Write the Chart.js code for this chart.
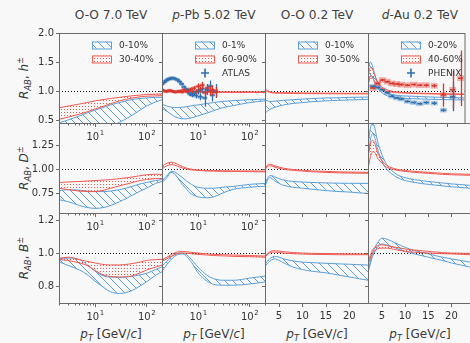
<!DOCTYPE html>
<html><head><meta charset="utf-8">
<script src="https://cdn.jsdelivr.net/npm/chart.js@4.4.1/dist/chart.umd.min.js"></script>
<style>
html,body{margin:0;padding:0;background:#f8f8f8;}
#fig{position:relative;width:470px;height:343px;overflow:hidden;background:#f8f8f8;font-family:"DejaVu Sans",sans-serif;color:#3a3a3a;font-weight:400;}
#fig canvas{position:absolute;left:0;top:0;}
.t{position:absolute;white-space:nowrap;line-height:1;font-weight:400;}
.title{font-size:12.2px;transform:translate(-50%,-50%);color:#404040;}
.xl{font-size:12px;transform:translate(-50%,-50%);}
.yl{font-size:12px;transform:translate(-50%,-50%) rotate(-90deg);}
sub,sup{font-size:70%;line-height:0;}
</style></head><body>
<div id="fig">
<div class="t title" style="left:111px;top:15px">O-O 7.0 TeV</div>
<div class="t title" style="left:214px;top:15px"><i>p</i>-Pb 5.02 TeV</div>
<div class="t title" style="left:317px;top:15px">O-O 0.2 TeV</div>
<div class="t title" style="left:420px;top:15px"><i>d</i>-Au 0.2 TeV</div>
<div class="t yl" style="left:24px;top:78px"><i>R</i><sub><i>AB</i></sub>, <i>h</i><sup>±</sup></div>
<div class="t yl" style="left:24px;top:168px"><i>R</i><sub><i>AB</i></sub>, <i>D</i><sup>±</sup></div>
<div class="t yl" style="left:24px;top:258px"><i>R</i><sub><i>AB</i></sub>, <i>B</i><sup>±</sup></div>
<div class="t xl" style="left:111px;top:334px"><i>p</i><sub><i>T</i></sub> [GeV/<i>c</i>]</div>
<div class="t xl" style="left:214px;top:334px"><i>p</i><sub><i>T</i></sub> [GeV/<i>c</i>]</div>
<div class="t xl" style="left:317px;top:334px"><i>p</i><sub><i>T</i></sub> [GeV/<i>c</i>]</div>
<div class="t xl" style="left:420px;top:334px"><i>p</i><sub><i>T</i></sub> [GeV/<i>c</i>]</div>
</div>
<script>
// ---------------- DATA ----------------
// pT grids
const ptOO7 = [2, 3, 5, 7, 10, 15, 20, 30, 50, 75, 100, 150, 200];
const ptPPb = [2, 2.5, 3, 3.5, 4, 5, 6, 7, 8, 10, 15, 20, 30, 50, 100, 200];
const ptRHIC = [2, 2.5, 3, 3.5, 4, 5, 6, 8, 10, 12, 15, 18, 20, 24];

// O-O 7.0 TeV
const oo7_h_blueHi = [0.45, 0.50, 0.57, 0.62, 0.67, 0.72, 0.76, 0.80, 0.85, 0.87, 0.88, 0.89, 0.89];
const oo7_h_blueLo = [0.42, 0.38, 0.34, 0.32, 0.32, 0.35, 0.39, 0.46, 0.57, 0.67, 0.74, 0.81, 0.85];
const oo7_h_redHi  = [0.71, 0.74, 0.775, 0.80, 0.83, 0.855, 0.87, 0.89, 0.915, 0.93, 0.94, 0.945, 0.95];
const oo7_h_redLo  = [0.51, 0.55, 0.60, 0.64, 0.69, 0.74, 0.78, 0.83, 0.875, 0.90, 0.91, 0.915, 0.92];
const oo7_D_blueHi = [0.775, 0.785, 0.78, 0.77, 0.765, 0.765, 0.77, 0.785, 0.815, 0.845, 0.86, 0.88, 0.89];
const oo7_D_blueLo = [0.68, 0.66, 0.62, 0.60, 0.59, 0.60, 0.62, 0.66, 0.72, 0.77, 0.80, 0.85, 0.87];
const oo7_D_redHi  = [0.86, 0.865, 0.87, 0.875, 0.88, 0.885, 0.89, 0.90, 0.915, 0.93, 0.94, 0.945, 0.945];
const oo7_D_redLo  = [0.80, 0.785, 0.77, 0.765, 0.765, 0.78, 0.80, 0.825, 0.855, 0.88, 0.89, 0.90, 0.90];
const oo7_B_blueHi = [0.965, 0.97, 0.96, 0.93, 0.89, 0.86, 0.855, 0.853, 0.858, 0.868, 0.877, 0.90, 0.917];
const oo7_B_blueLo = [0.947, 0.925, 0.897, 0.87, 0.83, 0.79, 0.765, 0.755, 0.77, 0.80, 0.825, 0.865, 0.887];
const oo7_B_redHi  = [0.968, 0.975, 0.96, 0.95, 0.94, 0.93, 0.928, 0.928, 0.935, 0.945, 0.955, 0.96, 0.962];
const oo7_B_redLo  = [0.96, 0.955, 0.94, 0.925, 0.895, 0.865, 0.858, 0.855, 0.86, 0.88, 0.897, 0.915, 0.927];

// p-Pb 5.02 TeV
const ppb_h_blueHi = [0.77, 0.74, 0.72, 0.715, 0.715, 0.72, 0.73, 0.74, 0.75, 0.76, 0.785, 0.80, 0.82, 0.835, 0.85, 0.86];
const ppb_h_blueLo = [0.70, 0.65, 0.60, 0.56, 0.54, 0.52, 0.52, 0.53, 0.545, 0.57, 0.62, 0.66, 0.71, 0.75, 0.80, 0.83];
const ppb_h_redHi  = [1.01, 1.01, 1.005, 1.0, 1.0, 0.995, 0.995, 0.99, 0.99, 0.99, 0.99, 0.985, 0.985, 0.985, 0.985, 0.985];
const ppb_h_redLo  = [0.995, 0.995, 0.99, 0.985, 0.985, 0.98, 0.98, 0.98, 0.978, 0.978, 0.977, 0.975, 0.975, 0.975, 0.975, 0.975];
const ppb_D_blueHi = [0.88, 0.93, 0.975, 0.97, 0.95, 0.91, 0.875, 0.85, 0.83, 0.81, 0.80, 0.80, 0.81, 0.82, 0.84, 0.85];
const ppb_D_blueLo = [0.86, 0.91, 0.965, 0.95, 0.91, 0.84, 0.79, 0.75, 0.73, 0.71, 0.70, 0.71, 0.75, 0.79, 0.81, 0.82];
const ppb_D_redHi  = [1.03, 1.06, 1.07, 1.065, 1.05, 1.025, 1.01, 1.0, 0.995, 0.99, 0.985, 0.985, 0.982, 0.98, 0.98, 0.978];
const ppb_D_redLo  = [1.0, 1.035, 1.045, 1.04, 1.03, 1.01, 1.0, 0.993, 0.99, 0.985, 0.98, 0.978, 0.975, 0.975, 0.972, 0.97];
const ppb_B_blueHi = [0.92, 0.95, 0.975, 0.99, 0.998, 1.0, 0.99, 0.97, 0.95, 0.915, 0.865, 0.845, 0.835, 0.835, 0.848, 0.86];
const ppb_B_blueLo = [0.89, 0.93, 0.96, 0.98, 0.99, 0.995, 0.98, 0.955, 0.93, 0.88, 0.83, 0.81, 0.805, 0.805, 0.812, 0.825];
const ppb_B_redHi  = [0.96, 0.975, 0.99, 1.0, 1.007, 1.01, 1.008, 1.005, 1.003, 1.0, 0.995, 0.992, 0.99, 0.988, 0.985, 0.982];
const ppb_B_redLo  = [0.95, 0.965, 0.98, 0.99, 0.997, 1.0, 0.999, 0.997, 0.995, 0.992, 0.988, 0.985, 0.983, 0.98, 0.978, 0.975];

// O-O 0.2 TeV
const oo02_h_blueHi = [0.85, 0.83, 0.82, 0.82, 0.825, 0.83, 0.84, 0.85, 0.86, 0.87, 0.88, 0.885, 0.89, 0.895];
const oo02_h_blueLo = [0.62, 0.65, 0.68, 0.70, 0.715, 0.74, 0.76, 0.785, 0.80, 0.815, 0.83, 0.84, 0.845, 0.855];
const oo02_h_redHi  = [1.03, 1.01, 0.99, 0.98, 0.975, 0.972, 0.97, 0.968, 0.966, 0.965, 0.963, 0.962, 0.961, 0.96];
const oo02_h_redLo  = [1.01, 0.99, 0.975, 0.968, 0.965, 0.962, 0.96, 0.958, 0.956, 0.955, 0.953, 0.952, 0.951, 0.95];
const oo02_D_blueHi = [0.84, 0.90, 0.93, 0.93, 0.92, 0.90, 0.885, 0.87, 0.865, 0.86, 0.855, 0.852, 0.851, 0.85];
const oo02_D_blueLo = [0.82, 0.88, 0.91, 0.90, 0.88, 0.85, 0.83, 0.81, 0.80, 0.79, 0.775, 0.765, 0.76, 0.745];
const oo02_D_redHi  = [1.0, 1.04, 1.05, 1.045, 1.035, 1.02, 1.008, 0.995, 0.987, 0.98, 0.975, 0.97, 0.968, 0.965];
const oo02_D_redLo  = [0.99, 1.025, 1.035, 1.03, 1.02, 1.007, 0.997, 0.986, 0.978, 0.972, 0.965, 0.96, 0.958, 0.955];
const oo02_B_blueHi = [0.93, 0.95, 0.965, 0.975, 0.98, 0.975, 0.965, 0.952, 0.945, 0.942, 0.938, 0.934, 0.932, 0.927];
const oo02_B_blueLo = [0.92, 0.935, 0.95, 0.96, 0.965, 0.955, 0.94, 0.915, 0.90, 0.89, 0.88, 0.865, 0.855, 0.835];
const oo02_B_redHi  = [0.98, 0.995, 1.007, 1.013, 1.014, 1.012, 1.008, 1.003, 1.0, 0.998, 0.997, 0.996, 0.995, 0.994];
const oo02_B_redLo  = [0.975, 0.99, 1.0, 1.005, 1.006, 1.004, 1.0, 0.996, 0.994, 0.992, 0.991, 0.99, 0.99, 0.99];

// d-Au 0.2 TeV
const dau_h_blueHi = [1.35, 1.50, 1.44, 1.30, 1.18, 1.05, 0.98, 0.93, 0.915, 0.91, 0.90, 0.892, 0.89, 0.88];
const dau_h_blueLo = [1.10, 1.26, 1.24, 1.15, 1.07, 0.98, 0.93, 0.89, 0.875, 0.868, 0.86, 0.853, 0.85, 0.845];
const dau_h_redHi  = [1.25, 1.40, 1.38, 1.28, 1.18, 1.08, 1.03, 0.99, 0.975, 0.968, 0.96, 0.955, 0.952, 0.948];
const dau_h_redLo  = [1.10, 1.22, 1.22, 1.16, 1.10, 1.04, 1.0, 0.975, 0.965, 0.958, 0.952, 0.947, 0.944, 0.94];
const dau_D_blueHi = [1.25, 1.42, 1.48, 1.42, 1.30, 1.15, 1.05, 0.95, 0.91, 0.89, 0.87, 0.855, 0.845, 0.83];
const dau_D_blueLo = [1.12, 1.30, 1.37, 1.32, 1.22, 1.08, 1.0, 0.92, 0.88, 0.86, 0.84, 0.825, 0.815, 0.80];
const dau_D_redHi  = [1.12, 1.26, 1.30, 1.26, 1.18, 1.09, 1.04, 1.0, 0.985, 0.975, 0.965, 0.955, 0.95, 0.945];
const dau_D_redLo  = [1.0, 1.12, 1.18, 1.17, 1.12, 1.06, 1.02, 0.99, 0.975, 0.965, 0.955, 0.945, 0.94, 0.935];
const dau_B_blueHi = [0.89, 0.95, 1.0, 1.035, 1.06, 1.09, 1.085, 1.06, 1.035, 1.015, 0.995, 0.975, 0.965, 0.945];
const dau_B_blueLo = [0.88, 0.935, 0.98, 1.01, 1.035, 1.055, 1.05, 1.03, 1.01, 0.995, 0.975, 0.955, 0.94, 0.915];
const dau_B_redHi  = [0.94, 0.985, 1.02, 1.035, 1.045, 1.05, 1.045, 1.035, 1.025, 1.018, 1.01, 1.003, 1.0, 0.998];
const dau_B_redLo  = [0.93, 0.97, 1.0, 1.015, 1.025, 1.03, 1.03, 1.02, 1.01, 1.005, 1.0, 0.996, 0.995, 0.99];

// ATLAS p-Pb data
const atlasPt      = [2.0, 2.2, 2.4, 2.6, 2.8, 3.0, 3.3, 3.6, 4.0, 4.4, 4.8, 5.3, 5.8, 6.3, 6.9, 7.5, 8.2, 9.0, 10.0, 11.0, 12.0, 13.5, 15.0, 17.0, 19.0, 22.0];
const atlasBlue    = [1.12, 1.15, 1.18, 1.20, 1.21, 1.22, 1.22, 1.21, 1.19, 1.16, 1.12, 1.07, 1.03, 0.99, 0.95, 0.93, 0.96, 0.92, 1.00, 0.90, 1.04, 0.88, 1.02, 1.08, 0.93, 1.00];
const atlasBlueErr = [0.01, 0.01, 0.01, 0.01, 0.01, 0.01, 0.012, 0.012, 0.015, 0.015, 0.02, 0.02, 0.025, 0.03, 0.03, 0.04, 0.04, 0.05, 0.06, 0.06, 0.07, 0.15, 0.09, 0.10, 0.11, 0.12];
const atlasRed     = [1.02, 1.00, 0.99, 1.00, 1.01, 1.00, 0.99, 0.98, 0.99, 1.00, 0.98, 1.02, 1.00, 0.99, 1.03, 1.00, 1.05, 0.99, 1.08, 1.02, 1.10, 0.97, 1.05, 1.00, 1.02, 0.98];
const atlasRedErr  = [0.01, 0.01, 0.01, 0.01, 0.01, 0.01, 0.01, 0.01, 0.012, 0.012, 0.015, 0.015, 0.02, 0.02, 0.025, 0.03, 0.035, 0.04, 0.05, 0.05, 0.06, 0.06, 0.07, 0.08, 0.08, 0.09];

// PHENIX d-Au data
const phenixPt      = [3.1, 4.2, 5.3, 6.4, 7.4, 8.5, 9.6, 11.0, 12.4, 13.8, 15.3, 17.1, 19.2, 21.3, 23.1];
const phenixRed     = [1.05, 1.13, 1.19, 1.16, 1.13, 1.12, 1.11, 1.10, 1.11, 1.10, 1.10, 1.09, 0.93, 1.02, 1.22];
const phenixRedErr  = [0.01, 0.01, 0.01, 0.01, 0.01, 0.01, 0.015, 0.015, 0.02, 0.02, 0.025, 0.03, 0.20, 0.33, 0.48];
const phenixBlue    = [1.08, 1.06, 1.02, 0.97, 0.91, 0.88, 0.86, 0.82, 0.80, 0.78, 0.80, 0.79, 0.67, 0.90, null];
const phenixBlueErr = [0.01, 0.01, 0.01, 0.01, 0.01, 0.01, 0.015, 0.015, 0.02, 0.02, 0.025, 0.03, 0.03, 0.25, 0];

// axes ticks / labels
const xLogMajor = [10, 100];
const xLogMajorExp = ['1', '2'];
const xLogMinor = [2, 3, 4, 5, 6, 7, 8, 9, 20, 30, 40, 50, 60, 70, 80, 90, 200];
const xLinTicks = [5, 10, 15, 20];
const xLinLabels = ['5', '10', '15', '20'];
const yTicksH = [0.5, 1.0, 1.5, 2.0];
const yLabelsH = ['0.5', '1.0', '1.5', '2.0'];
const yTicksD = [0.75, 1.0, 1.25];
const yLabelsD = ['0.75', '1.00', '1.25'];
const yTicksB = [0.8, 1.0, 1.2];
const yLabelsB = ['0.8', '1.0', '1.2'];
const legendLabels = [['0-10%', '30-40%'], ['0-1%', '60-90%', 'ATLAS'], ['0-10%', '30-50%'], ['0-20%', '40-60%', 'PHENIX']];

// ---------------- LAYOUT / STYLE ----------------
const W = 470, H = 343;
const COLX = [59, 162, 265, 368, 471];
const ROWY = [33, 123, 213, 303];
const rowAxes = [
  {min: 0.448, max: 2.0, ticks: yTicksH, labels: yLabelsH},
  {min: 0.542, max: 1.479, ticks: yTicksD, labels: yLabelsD},
  {min: 0.697, max: 1.243, ticks: yTicksB, labels: yLabelsB}
];
const colAxes = [
  {type: 'logarithmic', min: 2, max: 200},
  {type: 'logarithmic', min: 2, max: 200},
  {type: 'linear', min: 2, max: 24},
  {type: 'linear', min: 2, max: 24}
];
const BLUE = '#5b9fd6', RED = '#ef5a52', DBLUE = '#2e6fae', DRED = '#d9352c';
const SPINE = '#6a6a6a', TXT = '#333333';

function hatchPattern(color, s) {
  const c = document.createElement('canvas'); c.width = s; c.height = s;
  const g = c.getContext('2d');
  g.strokeStyle = color; g.lineWidth = 1;
  g.beginPath();
  g.moveTo(0, 0); g.lineTo(s, s);
  g.moveTo(-1, s - 1); g.lineTo(1, s + 1);
  g.moveTo(s - 1, -1); g.lineTo(s + 1, 1);
  g.stroke();
  return g.createPattern(c, 'repeat');
}
function dotPattern(color) {
  const c = document.createElement('canvas'); c.width = 3; c.height = 3;
  const g = c.getContext('2d');
  g.fillStyle = color; g.fillRect(1, 1, 1, 1);
  return g.createPattern(c, 'repeat');
}
const blueHatch = hatchPattern(BLUE, 8);
const redDots = dotPattern(RED);

const fig = document.getElementById('fig');

const decor = {
  id: 'decor',
  beforeDatasetsDraw(chart, args, o) {
    const {ctx, chartArea: a, scales: {x, y}} = chart;
    ctx.save();
    ctx.beginPath(); ctx.rect(a.left, a.top, a.right - a.left, a.bottom - a.top); ctx.clip();
    chart.data.datasets.forEach(ds => {
      if (!ds.sysY) return;
      ctx.fillStyle = ds.boxColor;
      ds.data.forEach((p) => {
        if (p.y == null) return;
        const px = x.getPixelForValue(p.x);
        const y1 = y.getPixelForValue(p.y + ds.sysY), y2 = y.getPixelForValue(p.y - ds.sysY);
        ctx.fillRect(px - ds.boxW / 2, y1, ds.boxW, y2 - y1);
      });
    });
    ctx.restore();
    ctx.save();
    ctx.strokeStyle = '#111'; ctx.lineWidth = 1; ctx.setLineDash([1, 2]);
    const py = Math.round(y.getPixelForValue(1)) + 0.5;
    ctx.beginPath(); ctx.moveTo(a.left, py); ctx.lineTo(a.right, py); ctx.stroke();
    ctx.restore();
  },
  afterDatasetsDraw(chart) {
    const {ctx, chartArea: a, scales: {x, y}} = chart;
    ctx.save();
    ctx.beginPath(); ctx.rect(a.left, a.top, a.right - a.left, a.bottom - a.top); ctx.clip();
    chart.data.datasets.forEach(ds => {
      if (!ds.errY) return;
      ctx.strokeStyle = ds.borderColor; ctx.lineWidth = 1.3;
      ds.data.forEach((p, i) => {
        if (p.y == null) return;
        const px = Math.round(x.getPixelForValue(p.x)) + 0.5;
        const e = Math.max(ds.errY[i], 0.02);
        ctx.beginPath();
        ctx.moveTo(px, y.getPixelForValue(p.y + e)); ctx.lineTo(px, y.getPixelForValue(p.y - e));
        ctx.stroke();
      });
    });
    ctx.restore();
  },
  afterDraw(chart, args, o) {
    const {ctx, chartArea: a, scales: {x, y}} = chart;
    ctx.save();
    ctx.strokeStyle = SPINE; ctx.lineWidth = 1;
    ctx.strokeRect(a.left + 0.5, a.top + 0.5, a.right - a.left, a.bottom - a.top);
    ctx.beginPath();
    o.yTicks.forEach(v => {
      const py = Math.round(y.getPixelForValue(v)) + 0.5;
      ctx.moveTo(a.left - 3, py); ctx.lineTo(a.left + 0.5, py);
    });
    o.xMajor.forEach(v => {
      const px = Math.round(x.getPixelForValue(v)) + 0.5;
      ctx.moveTo(px, a.bottom); ctx.lineTo(px, a.bottom + 4);
    });
    (o.xMinor || []).forEach(v => {
      const px = Math.round(x.getPixelForValue(v)) + 0.5;
      ctx.moveTo(px, a.bottom); ctx.lineTo(px, a.bottom + 2.5);
    });
    ctx.stroke();
    ctx.fillStyle = TXT;
    if (o.yLabels) {
      ctx.font = '10px "DejaVu Sans"'; ctx.textAlign = 'right'; ctx.textBaseline = 'middle';
      o.yTicks.forEach((v, i) => ctx.fillText(o.yLabels[i], a.left - 5, y.getPixelForValue(v) + 0.5));
    }
    if (o.xLabelsShow) {
      if (o.xExp) {
        o.xMajor.forEach((v, i) => {
          const px = x.getPixelForValue(v);
          ctx.font = '10px "DejaVu Sans"'; const wb = ctx.measureText('10').width;
          ctx.font = '7px "DejaVu Sans"'; const we = ctx.measureText(o.xExp[i]).width;
          const x0 = px - (wb + we) / 2;
          ctx.textAlign = 'left'; ctx.textBaseline = 'alphabetic';
          ctx.font = '10px "DejaVu Sans"'; ctx.fillText('10', x0, a.bottom + 17);
          ctx.font = '7px "DejaVu Sans"'; ctx.fillText(o.xExp[i], x0 + wb + 0.5, a.bottom + 12);
        });
      } else {
        ctx.font = '10px "DejaVu Sans"'; ctx.textAlign = 'center'; ctx.textBaseline = 'alphabetic';
        o.xMajor.forEach((v, i) => ctx.fillText(o.xText[i], x.getPixelForValue(v), a.bottom + 16));
      }
    }
    if (o.legend) {
      const lx = a.left + 33, tx = a.left + 60;
      o.legend.forEach((lab, i) => {
        const cy = a.top + 12 + i * 14;
        if (i === 0) {
          ctx.fillStyle = blueHatch; ctx.fillRect(lx, cy - 3.5, 19, 7);
          ctx.strokeStyle = BLUE; ctx.lineWidth = 1; ctx.strokeRect(lx + 0.5, cy - 3.5 + 0.5, 19, 7);
        } else if (i === 1) {
          ctx.fillStyle = redDots; ctx.fillRect(lx, cy - 3.5, 19, 7);
          ctx.strokeStyle = RED; ctx.lineWidth = 1; ctx.strokeRect(lx + 0.5, cy - 3.5 + 0.5, 19, 7);
        } else {
          ctx.strokeStyle = DBLUE; ctx.lineWidth = 1.6;
          ctx.beginPath(); ctx.moveTo(lx + 10, cy - 4.5); ctx.lineTo(lx + 10, cy + 4.5);
          ctx.moveTo(lx + 6, cy); ctx.lineTo(lx + 14, cy); ctx.stroke();
        }
        ctx.fillStyle = TXT; ctx.font = '9px "DejaVu Sans"'; ctx.textAlign = 'left'; ctx.textBaseline = 'middle';
        ctx.fillText(lab, tx, cy + 0.5);
      });
    }
    ctx.restore();
  }
};
Chart.register(decor);

const pts = (xs, ys) => xs.map((v, i) => ({x: v, y: ys[i]}));
function band(xs, hi, lo, color, fillStyle, order) {
  const common = {borderColor: color, borderWidth: 1, pointRadius: 0, tension: 0.4, cubicInterpolationMode: 'monotone', order};
  return [
    Object.assign({data: pts(xs, hi), fill: '+1', backgroundColor: fillStyle}, common),
    Object.assign({data: pts(xs, lo), fill: false}, common)
  ];
}
function dataSet(xs, ys, err, color, boxColor, sys, boxW) {
  return {data: pts(xs, ys), showLine: false, borderColor: color, backgroundColor: color, pointStyle: 'line',
    pointRadius: 2.5, pointBorderWidth: 1.5, order: 1, errY: err, sysY: sys, boxColor, boxW};
}

const panels = [
  [ptOO7, oo7_h_blueHi, oo7_h_blueLo, oo7_h_redHi, oo7_h_redLo],
  [ptPPb, ppb_h_blueHi, ppb_h_blueLo, ppb_h_redHi, ppb_h_redLo],
  [ptRHIC, oo02_h_blueHi, oo02_h_blueLo, oo02_h_redHi, oo02_h_redLo],
  [ptRHIC, dau_h_blueHi, dau_h_blueLo, dau_h_redHi, dau_h_redLo],
  [ptOO7, oo7_D_blueHi, oo7_D_blueLo, oo7_D_redHi, oo7_D_redLo],
  [ptPPb, ppb_D_blueHi, ppb_D_blueLo, ppb_D_redHi, ppb_D_redLo],
  [ptRHIC, oo02_D_blueHi, oo02_D_blueLo, oo02_D_redHi, oo02_D_redLo],
  [ptRHIC, dau_D_blueHi, dau_D_blueLo, dau_D_redHi, dau_D_redLo],
  [ptOO7, oo7_B_blueHi, oo7_B_blueLo, oo7_B_redHi, oo7_B_redLo],
  [ptPPb, ppb_B_blueHi, ppb_B_blueLo, ppb_B_redHi, ppb_B_redLo],
  [ptRHIC, oo02_B_blueHi, oo02_B_blueLo, oo02_B_redHi, oo02_B_redLo],
  [ptRHIC, dau_B_blueHi, dau_B_blueLo, dau_B_redHi, dau_B_redLo]
];

panels.forEach((p, idx) => {
  const row = Math.floor(idx / 4), col = idx % 4;
  const cv = document.createElement('canvas');
  cv.width = W; cv.height = H; cv.style.width = W + 'px'; cv.style.height = H + 'px';
  fig.appendChild(cv);
  const [xs, bHi, bLo, rHi, rLo] = p;
  let datasets = [].concat(band(xs, bHi, bLo, BLUE, blueHatch, 3), band(xs, rHi, rLo, RED, redDots, 2));
  if (row === 0 && col === 1) {
    datasets.push(dataSet(atlasPt, atlasBlue, atlasBlueErr, DBLUE, 'rgba(46,111,174,0.35)', 0.035, 4));
    datasets.push(dataSet(atlasPt, atlasRed, atlasRedErr, DRED, 'rgba(217,53,44,0.35)', 0.03, 4));
  }
  if (row === 0 && col === 3) {
    datasets.push(dataSet(phenixPt, phenixBlue, phenixBlueErr, DBLUE, 'rgba(46,111,174,0.35)', 0.04, 7));
    datasets.push(dataSet(phenixPt, phenixRed, phenixRedErr, DRED, 'rgba(217,53,44,0.35)', 0.05, 7));
  }
  const isLog = col < 2;
  const ra = rowAxes[row], ca = colAxes[col];
  new Chart(cv, {
    type: 'line',
    data: {datasets},
    options: {
      responsive: false, animation: false, devicePixelRatio: 1, events: [],
      layout: {padding: {left: COLX[col], top: ROWY[row], right: W - COLX[col + 1], bottom: H - ROWY[row + 1]}},
      scales: {
        x: {type: ca.type, min: ca.min, max: ca.max, display: false},
        y: {type: 'linear', min: ra.min, max: ra.max, display: false}
      },
      plugins: {
        legend: {display: false}, tooltip: {enabled: false},
        decor: {
          yTicks: ra.ticks, yLabels: col === 0 ? ra.labels : null,
          xMajor: isLog ? xLogMajor : xLinTicks, xMinor: isLog ? xLogMinor : null,
          xExp: isLog ? xLogMajorExp : null, xText: isLog ? null : xLinLabels,
          xLabelsShow: isLog || row === 2,
          legend: row === 0 ? legendLabels[col] : null
        }
      }
    }
  });
});
</script>
</body></html>
